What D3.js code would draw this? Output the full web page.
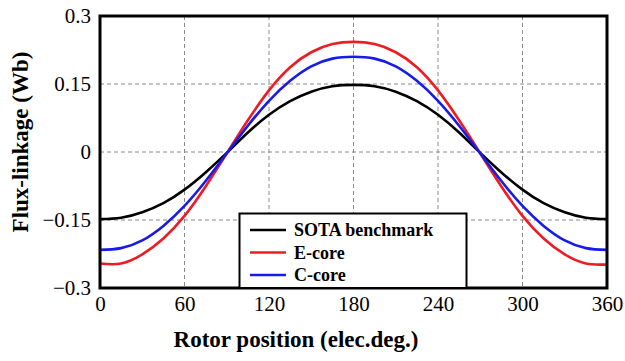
<!DOCTYPE html>
<html>
<head>
<meta charset="utf-8">
<script src="https://cdn.jsdelivr.net/npm/d3@7"></script>
</head>
<body style="margin:0; background:#fff">
<svg id="chart" width="625" height="361"></svg>
<script>
// Rotor position samples (electrical degrees)
const angles = [0, 15, 30, 45, 60, 75, 90, 105, 120, 135, 150, 165, 180,
                195, 210, 225, 240, 255, 270, 285, 300, 315, 330, 345, 360];

// Flux-linkage (Wb) for each design
const sotaValues = [-0.148, -0.145, -0.133, -0.113, -0.083, -0.045, -0.002, 0.043, 0.082, 0.112, 0.133, 0.145, 0.148,
                    0.145, 0.133, 0.112, 0.082, 0.043, -0.002, -0.045, -0.083, -0.113, -0.133, -0.145, -0.148];
const eCoreValues = [-0.246, -0.246, -0.226, -0.191, -0.141, -0.076, -0.003, 0.070, 0.136, 0.187, 0.220, 0.238, 0.243,
                     0.238, 0.220, 0.187, 0.136, 0.070, -0.003, -0.076, -0.141, -0.191, -0.226, -0.246, -0.248];
const cCoreValues = [-0.216, -0.212, -0.195, -0.163, -0.119, -0.064, -0.003, 0.058, 0.113, 0.157, 0.189, 0.206, 0.210,
                     0.206, 0.189, 0.157, 0.113, 0.058, -0.003, -0.064, -0.119, -0.163, -0.195, -0.212, -0.216];

const seriesNames = ["SOTA benchmark", "E-core", "C-core"];
const seriesColors = ["#000000", "#ec1c24", "#1a1ae6"];

const xTicks = [0, 60, 120, 180, 240, 300, 360];
const yTicks = [-0.3, -0.15, 0, 0.15, 0.3];
const yTickLabels = ["\u22120.3", "\u22120.15", "0", "0.15", "0.3"];

const textFont = '"Liberation Serif", "Times New Roman"';

const svg = d3.select("#chart");
const plot = { left: 100, top: 16, right: 607, bottom: 288 };

const x = d3.scaleLinear().domain([0, 360]).range([plot.left, plot.right]);
const y = d3.scaleLinear().domain([-0.3, 0.3]).range([plot.bottom, plot.top]);

// Dashed grid
const grid = svg.append("g").attr("stroke", "#8a8a8a").attr("stroke-width", 1)
  .attr("stroke-dasharray", "4,3");
grid.selectAll("line.gx").data(xTicks.slice(1, -1)).join("line")
  .attr("x1", d => x(d)).attr("x2", d => x(d))
  .attr("y1", plot.top).attr("y2", plot.bottom);
grid.selectAll("line.gy").data(yTicks.slice(1, -1)).join("line")
  .attr("x1", plot.left).attr("x2", plot.right)
  .attr("y1", d => y(d)).attr("y2", d => y(d));

// Curves
const allSeries = [sotaValues, eCoreValues, cCoreValues];
const line = d3.line()
  .x((d, i) => x(angles[i]))
  .y(d => y(d))
  .curve(d3.curveNatural);

svg.append("g").selectAll("path").data(allSeries).join("path")
  .attr("d", d => line(d))
  .attr("fill", "none")
  .attr("stroke", (d, i) => seriesColors[i])
  .attr("stroke-width", 2.6)
  .attr("stroke-linejoin", "round");

// Axes (labels only, no tick marks)
const xAxis = d3.axisBottom(x).tickValues(xTicks).tickSize(0).tickPadding(8)
  .tickFormat(d3.format("d"));
svg.append("g").attr("transform", `translate(0,${plot.bottom})`).call(xAxis)
  .call(g => g.select(".domain").remove())
  .call(g => g.attr("font-family", null).attr("font-size", null))
  .selectAll("text")
  .style("font-family", textFont).style("font-size", "21px").attr("fill", "#000");

const yAxis = d3.axisLeft(y).tickValues(yTicks).tickSize(0).tickPadding(9)
  .tickFormat((d, i) => yTickLabels[i]);
svg.append("g").attr("transform", `translate(${plot.left},0)`).call(yAxis)
  .call(g => g.select(".domain").remove())
  .call(g => g.attr("font-family", null).attr("font-size", null))
  .selectAll("text")
  .style("font-family", textFont).style("font-size", "21px").attr("fill", "#000");

// Frame
svg.append("rect")
  .attr("x", plot.left).attr("y", plot.top)
  .attr("width", plot.right - plot.left).attr("height", plot.bottom - plot.top)
  .attr("fill", "none").attr("stroke", "#000").attr("stroke-width", 3);

// Legend
const legend = svg.append("g");
legend.append("rect")
  .attr("x", 239.5).attr("y", 213.5).attr("width", 227).attr("height", plot.bottom - 213.5)
  .attr("fill", "#fff").attr("stroke", "#000").attr("stroke-width", 2);
const rows = legend.selectAll("g.row").data(seriesNames).join("g")
  .attr("transform", (d, i) => `translate(0,${230 + i * 22.5})`);
rows.append("line")
  .attr("x1", 250).attr("x2", 286).attr("y1", 0).attr("y2", 0)
  .attr("stroke", (d, i) => seriesColors[i]).attr("stroke-width", 2.6);
rows.append("text")
  .attr("x", 294).attr("y", 6)
  .style("font-family", textFont).style("font-size", "18px").style("font-weight", "bold")
  .text(d => d);

// Axis titles
svg.append("text")
  .attr("x", (185 + 407) / 2).attr("y", 347)
  .attr("text-anchor", "middle")
  .style("font-family", textFont).style("font-size", "23px").style("font-weight", "bold")
  .text("Rotor position (elec.deg.)");

svg.append("text")
  .attr("transform", "translate(28,142) rotate(-90)")
  .attr("text-anchor", "middle")
  .style("font-family", textFont).style("font-size", "23px").style("font-weight", "bold")
  .text("Flux-linkage (Wb)");
</script>
</body>
</html>
